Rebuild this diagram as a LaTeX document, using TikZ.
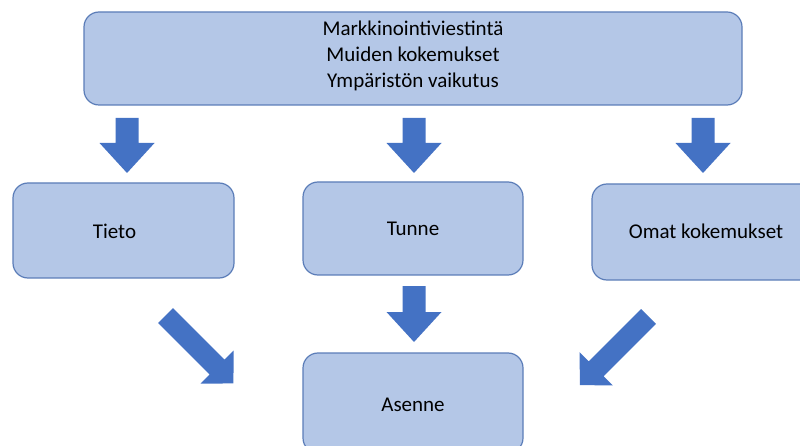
\documentclass[tikz,border=0pt]{standalone}
\usepackage{fontspec}
\setmainfont{Carlito}
\definecolor{boxfill}{HTML}{B4C7E7}
\definecolor{boxline}{HTML}{5B7DB8}
\definecolor{arrowfill}{HTML}{4472C4}
\tikzset{
  box/.style={draw=boxline, fill=boxfill, line width=1.2pt, rounded corners=15pt, inner sep=0pt},
  lbl/.style={font=\fontsize{21}{26}\selectfont, text=black, inner sep=0pt, align=center},
  pics/blockarrow/.style args={#1/#2/#3/#4}{code={
    \fill[arrowfill] (-#2/2,0) -- (#2/2,0) -- (#2/2,#1-#4) -- (#3/2,#1-#4) -- (0,#1)
      -- (-#3/2,#1-#4) -- (-#2/2,#1-#4) -- cycle;}}
}
\begin{document}
\begin{tikzpicture}[x=1pt,y=-1pt]
\useasboundingbox (0,0) rectangle (800,446);
\clip (0,0) rectangle (800,446);
% boxes
\node[box, minimum width=658pt, minimum height=93pt] (top) at (413,58.5) {};
\node[lbl] (toptext) at (413,56) {Markkinointiviestintä\\Muiden kokemukset\\Ympäristön vaikutus};
\node[box, minimum width=221pt, minimum height=95pt] (tieto) at (123.5,230.5) {};
\node[lbl] (tietotext) at (114.5,231) {Tieto};
\node[box, minimum width=220pt, minimum height=93pt] (tunne) at (413,228.5) {};
\node[lbl] (tunnetext) at (413,229) {Tunne};
\node[box, minimum width=228pt, minimum height=96pt] (omat) at (706,232) {};
\node[lbl] (omattext) at (706,231) {Omat kokemukset};
\node[box, minimum width=220pt, minimum height=100pt] (asenne) at (413,403) {};
\node[lbl] (asennetext) at (413,405) {Asenne};
% arrows
\pic at (127,118) {blockarrow={55/23/55/30}};
\pic at (414,118) {blockarrow={55/23/55/30}};
\pic at (703,118) {blockarrow={55/23/55/30}};
\pic at (414,286) {blockarrow={56/23/55/30}};
\pic[rotate=45] at (165.5,315.5) {blockarrow={96/21/47/23}};
\pic[rotate=-45] at (648.5,316.5) {blockarrow={97/21/47/23}};
\end{tikzpicture}
\end{document}
